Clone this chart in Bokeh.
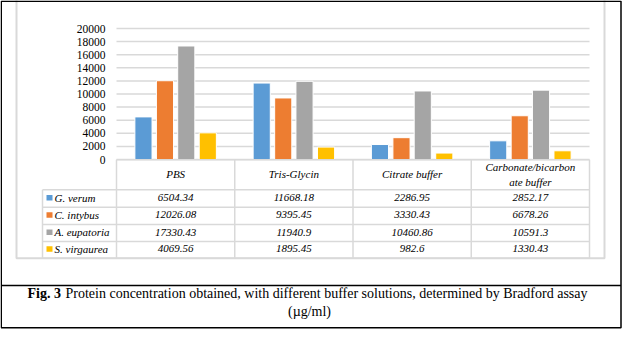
from bokeh.plotting import figure
from bokeh.models import Range1d
from bokeh.core.properties import value
from bokeh.embed import file_html
from bokeh.resources import INLINE

# ---- data ----
categories = ["PBS", "Tris-Glycin", "Citrate buffer", "Carbonate/bicarbonate buffer"]
header_lines = [["PBS"], ["Tris-Glycin"], ["Citrate buffer"], ["Carbonate/bicarbon", "ate buffer"]]
series_names = ["G. verum", "C. intybus", "A. eupatoria", "S. virgaurea"]
g_verum = [6504.34, 11668.18, 2286.95, 2852.17]
c_intybus = [12026.08, 9395.45, 3330.43, 6678.26]
a_eupatoria = [17330.43, 11940.9, 10460.86, 10591.3]
s_virgaurea = [4069.56, 1895.45, 982.6, 1330.43]
series_values = [g_verum, c_intybus, a_eupatoria, s_virgaurea]
colors = ["#5B9BD5", "#ED7D31", "#A5A5A5", "#FFC000"]
y_ticks = list(range(0, 20001, 2000))
caption_bold = "Fig. 3"
caption_rest = "Protein concentration obtained, with different buffer solutions, determined by Bradford assay"
caption_line2 = "(µg/ml)"

# ---- layout (pixels) ----
W, H = 624, 351
FL, FR, FT, FB = 116, 589, 28, 159
YMAX = 20000
SERIF = value("Liberation Serif")
GRID = "#d9d9d9"
n = len(categories)
cw = (FR - FL) / n
k = YMAX / (FB - FT)

p = figure(width=W, height=H, x_range=Range1d(0, W), y_range=Range1d(H, 0),
           output_backend="svg", toolbar_location=None,
           x_axis_location=None, y_axis_location=None,
           min_border=0, min_border_left=0, min_border_right=0,
           min_border_top=0, min_border_bottom=0, title=None)
p.extra_x_ranges = {"cat": Range1d(-FL / cw, n + (W - FR) / cw)}
p.extra_y_ranges = {"val": Range1d(-(H - FB) * k, YMAX + FT * k)}
p.outline_line_color = None
p.grid.visible = False
p.background_fill_color = "white"
p.border_fill_color = "white"

# chart area border (light grey)
p.quad(left=[16], right=[604], top=[-5], bottom=[257.7], fill_color=None,
       line_color=GRID, line_width=2)

# gridlines and y tick labels (value scale)
p.segment(x0=FL, x1=FR, y0=y_ticks, y1=y_ticks, y_range_name="val",
          line_color=GRID, line_width=1.5)
p.text(x=FL - 11, y=y_ticks, text=[str(t) for t in y_ticks], y_range_name="val",
       text_font=SERIF, text_font_size="11.5px", text_align="right",
       text_baseline="middle", text_color="black")

# bars
cat_centers = [i + 0.5 for i in range(n)]
offsets = [-0.272, -0.09, 0.09, 0.272]
for vals, col, off in zip(series_values, colors, offsets):
    p.vbar(x=[c + off for c in cat_centers], top=vals, bottom=0, width=0.145,
           x_range_name="cat", y_range_name="val", fill_color=col,
           line_color="white", line_width=1)

# table
col_edges = [FL + i * cw for i in range(n + 1)]
header_top, header_bot = 159.3, 189.3
row_edges = [189.3, 206.7, 224.0, 241.0, 257.7]
legend_left = 42

def txt(x, y, s, size="11px", style="italic", align="center"):
    p.text(x=[x], y=[y], text=[s], text_font=SERIF, text_font_size=size,
           text_font_style=style, text_align=align, text_baseline="middle",
           text_color="black")

hx0, hx1, hy = [FL], [FR], [header_top]
for yv in row_edges:
    hx0.append(legend_left); hx1.append(FR); hy.append(yv)
p.segment(x0=hx0, x1=hx1, y0=hy, y1=hy, line_color=GRID, line_width=1.5)
vx, vy0, vy1 = [], [], []
for xe in col_edges:
    vx.append(xe); vy0.append(header_top); vy1.append(row_edges[-1])
vx.append(legend_left); vy0.append(header_bot); vy1.append(row_edges[-1])
p.segment(x0=vx, x1=vx, y0=vy0, y1=vy1, line_color=GRID, line_width=1.5)

for i in range(n):
    lines = header_lines[i]
    cx = (col_edges[i] + col_edges[i + 1]) / 2
    if len(lines) == 1:
        txt(cx, 173.5, lines[0])
    else:
        txt(cx, 166.5, lines[0])
        txt(cx, 181, lines[1])

for r, (name, vals, col) in enumerate(zip(series_names, series_values, colors)):
    t, b = row_edges[r], row_edges[r + 1]
    cy = (t + b) / 2 - 1
    p.quad(left=[46], right=[52], top=[cy - 2.5], bottom=[cy + 3], fill_color=col, line_color=None)
    txt(54, cy, name, align="left")
    for i in range(n):
        txt((col_edges[i] + col_edges[i + 1]) / 2, cy, str(vals[i]))

# outer black frame and caption box
p.quad(left=[0.75], right=[620.5], top=[0.75], bottom=[327.3], fill_color=None,
       line_color="black", line_width=1.5)
p.segment(x0=[0.75], x1=[620.5], y0=[285], y1=[285], line_color="black", line_width=1.5)
txt(27, 292.5, caption_bold, size="14px", style="bold", align="left")
txt(65, 292.5, caption_rest, size="14px", style="normal", align="left")
txt(309, 311, caption_line2, size="14px", style="normal", align="center")

open("out.html", "w").write(file_html(p, INLINE))
